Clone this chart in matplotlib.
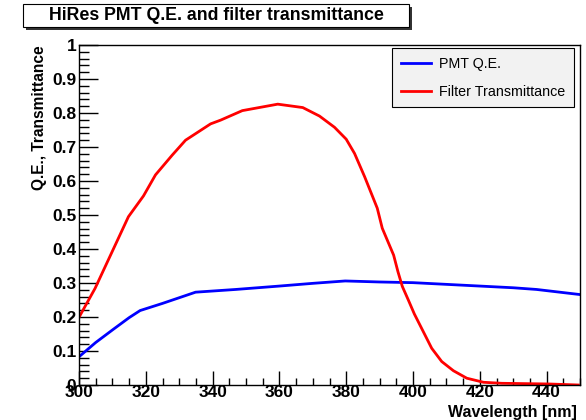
import matplotlib
matplotlib.use("Agg")
import matplotlib.pyplot as plt
from matplotlib.patches import Rectangle
from matplotlib.ticker import MultipleLocator

plt.rcParams['font.family'] = ['Liberation Sans', 'DejaVu Sans']

title = "HiRes PMT Q.E. and filter transmittance"
xlabel = "Wavelength [nm]"
ylabel = "Q.E., Transmittance"

qe_wl = [300, 305, 310.3, 315, 318.3, 325, 334.9, 346.9, 360, 370, 379.7, 390, 400, 410, 420, 430, 437, 450]
qe_val = [0.083, 0.125, 0.164, 0.198, 0.219, 0.24, 0.273, 0.281, 0.291, 0.299, 0.306, 0.303, 0.301, 0.296, 0.291, 0.286, 0.281, 0.266]

ft_wl = [300, 304.8, 314.8, 319.3, 322.9, 327.9, 331.9, 339.4, 342.4, 348.9, 359.5, 367.0, 372.0,
         376.5, 380.0, 382.5, 385.5, 389.3, 390.8, 394.2, 395.5, 396.8, 398.6, 400.4, 405.6,
         408.6, 412.1, 416.1, 421.1, 426.6, 440.7, 449.5]
ft_val = [0.199, 0.284, 0.495, 0.556, 0.618, 0.676, 0.72, 0.768, 0.779, 0.807, 0.826, 0.816, 0.791,
          0.758, 0.723, 0.681, 0.613, 0.52, 0.461, 0.382, 0.333, 0.29, 0.25, 0.209, 0.108,
          0.069, 0.042, 0.02, 0.008, 0.005, 0.003, 0.0]

W, H = 586, 420
fig = plt.figure(figsize=(W / 100, H / 100), dpi=100)
fig.patch.set_facecolor('white')
ax = fig.add_axes([79 / W, 1 - 385 / H, (580 - 79) / W, (385 - 45) / H])

l1, = ax.plot(qe_wl, qe_val, color='#0000ff', lw=2.0, label='PMT Q.E.')
l2, = ax.plot(ft_wl, ft_val, color='#ff0000', lw=2.0, label='Filter Transmittance')

ax.set_xlim(300, 450)
ax.set_ylim(0, 1)
ax.xaxis.set_major_locator(MultipleLocator(20))
ax.xaxis.set_minor_locator(MultipleLocator(5))
ax.yaxis.set_minor_locator(MultipleLocator(0.02))
ax.set_yticks([0, 0.1, 0.2, 0.3, 0.4, 0.5, 0.6, 0.7, 0.8, 0.9, 1.0])
ax.set_yticklabels(['0', '0.1', '0.2', '0.3', '0.4', '0.5', '0.6', '0.7', '0.8', '0.9', '1'])
ax.tick_params(axis='both', which='both', direction='in', top=False, right=False, width=1)
ax.tick_params(axis='y', which='major', length=14, pad=2)
ax.tick_params(axis='y', which='minor', length=7)
ax.tick_params(axis='x', which='major', length=10, pad=0)
ax.tick_params(axis='x', which='minor', length=5)
for lab in ax.get_xticklabels() + ax.get_yticklabels():
    lab.set_fontweight('bold')
    lab.set_fontsize(12.5)
for s in ax.spines.values():
    s.set_linewidth(1)

ax.set_xlabel(xlabel, fontsize=11.5, fontweight='bold', ha='right', va='center')
ax.xaxis.set_label_coords((577 - 79) / 501, -(412 - 385) / 340)
ax.set_ylabel(ylabel, fontsize=11.2, fontweight='bold', ha='right', va='center')
ax.yaxis.set_label_coords((40 - 79) / 501, 1.0)

leg = ax.legend(handles=[l1, l2], loc='upper right', bbox_to_anchor=(574 / W, 1 - 48 / H),
                bbox_transform=fig.transFigure, fontsize=10.3, frameon=True, fancybox=False,
                facecolor='#f2f2f2', edgecolor='black', framealpha=1, handlelength=2.1,
                labelspacing=1.0, borderpad=0.6, handletextpad=0.6, borderaxespad=0)
leg.get_frame().set_linewidth(0.8)

# Title box with shadow
x0, y0, x1, y1 = 23, 4, 409, 27
fig.patches.append(Rectangle((x0 / W + 3 / W, 1 - (y1 + 3) / H), (x1 - x0) / W, (y1 - y0) / H,
                             transform=fig.transFigure, facecolor='#333333', edgecolor='none', zorder=1))
fig.patches.append(Rectangle((x0 / W, 1 - y1 / H), (x1 - x0) / W, (y1 - y0) / H,
                             transform=fig.transFigure, facecolor='white', edgecolor='black', lw=0.8, zorder=2))
fig.text((x0 + x1) / 2 / W, 1 - 16 / H, title, ha='center', va='center', fontsize=12.8,
         fontweight='bold', zorder=3)

fig.savefig('out.png', dpi=100)
